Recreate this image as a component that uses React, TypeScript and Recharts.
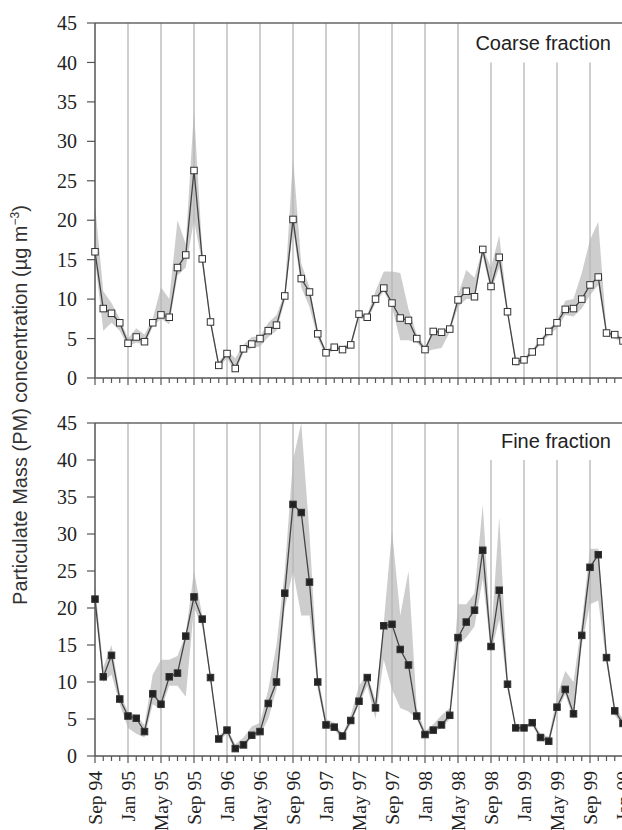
import React from 'react';
import {
  ComposedChart,
  Area,
  Line,
  XAxis,
  YAxis,
  ReferenceLine,
} from 'recharts';

// month index 0 = Sep 94 ... 64 = Jan 00
const tickLabels = [
  'Sep 94', 'Jan 95', 'May 95', 'Sep 95', 'Jan 96', 'May 96', 'Sep 96', 'Jan 97', 'May 97',
  'Sep 97', 'Jan 98', 'May 98', 'Sep 98', 'Jan 99', 'May 99', 'Sep 99', 'Jan 00',
];

const coarseMean = [
  16.0, 8.8, 8.2, 7.0, 4.4, 5.2, 4.6, 7.0, 8.0, 7.7,
  14.0, 15.6, 26.3, 15.1, 7.1, 1.6, 3.1, 1.2, 3.7, 4.3,
  5.0, 6.0, 6.7, 10.4, 20.1, 12.6, 10.9, 5.6, 3.2, 3.9,
  3.6, 4.2, 8.1, 7.7, 10.0, 11.4, 9.5, 7.6, 7.3, 5.0,
  3.6, 5.9, 5.8, 6.2, 9.9, 11.0, 10.3, 16.3, 11.6, 15.3,
  8.4, 2.1, 2.3, 3.3, 4.6, 5.9, 7.0, 8.7, 8.8, 10.0,
  11.8, 12.8, 5.7, 5.5, 4.7,
];
const coarseLow = [
  15, 6, 7, 6, 4, 4.5, 4.2, 6.5, 7.5, 6.8,
  13, 14, 20, 14.5, 6.8, 1.3, 2.5, 0.8, 3.2, 3.8,
  4, 5.2, 6, 9.8, 19, 11.5, 9, 5, 2.8, 3.6,
  3.4, 3.8, 7.6, 7.3, 9.5, 11, 9, 4.8, 4.8, 4.5,
  3.3, 3.6, 3.8, 5.8, 9, 10, 10, 15.5, 11, 14,
  8, 1.5, 2, 3, 4.3, 5.4, 6.3, 8, 7.8, 8.8,
  10.5, 11.8, 5.3, 5, 4.5,
];
const coarseHigh = [
  22, 11, 9.5, 7.5, 5, 6.3, 5.5, 7.5, 11.5, 10,
  20, 17, 34, 16, 7.5, 2, 3.5, 2.5, 4.2, 5.2,
  5.3, 7, 8, 10.8, 28, 14.5, 11.5, 6, 3.5, 4.2,
  4, 4.5, 8.3, 8.0, 11, 13.5, 13.5, 13.3, 8.7, 5.5,
  3.9, 6.1, 6.1, 6.5, 10.5, 13.7, 12.7, 16.5, 14, 18.1,
  8.8, 2.5, 2.6, 3.6, 4.9, 6.2, 7.3, 9.8, 10, 13.3,
  17.5, 19.8, 6, 5.8, 5,
];

const fineMean = [
  21.2, 10.7, 13.6, 7.7, 5.4, 5.1, 3.3, 8.4, 7.0, 10.7,
  11.2, 16.2, 21.5, 18.5, 10.6, 2.3, 3.5, 1.0, 1.5, 2.8,
  3.3, 7.1, 10.0, 22.0, 34.0, 32.9, 23.5, 10.0, 4.2, 3.9,
  2.7, 4.8, 7.4, 10.6, 6.5, 17.6, 17.8, 14.4, 12.3, 5.4,
  2.9, 3.5, 4.2, 5.5, 16.0, 18.1, 19.7, 27.8, 14.8, 22.4,
  9.7, 3.8, 3.8, 4.5, 2.5, 2.0, 6.6, 9.0, 5.7, 16.3,
  25.5, 27.2, 13.3, 6.1, 4.4,
];
const fineLow = [
  20, 10, 11, 7, 3.8, 3, 2.5, 7, 6.3, 9.5,
  9.5, 8, 20, 17.5, 10, 2, 3, 0.6, 1.2, 2.5,
  2.8, 5, 9, 20, 25, 19, 19, 9, 3.8, 3.5,
  2.3, 4.3, 7, 9.5, 5, 13, 9, 6.5, 6, 5,
  2.5, 3.2, 3.8, 5, 15, 16, 17.5, 24, 14, 18.4,
  9, 3.5, 3.5, 4.2, 2.2, 1.5, 6, 8.3, 5, 15,
  20.5, 21, 12.5, 5.5, 4,
];
const fineHigh = [
  23, 12, 15, 8.5, 6, 5.5, 4.2, 11, 13, 13,
  13.5, 16.5, 25, 19, 11, 2.7, 3.8, 1.6, 2.5, 4,
  4.5, 9, 15, 25, 40, 45, 30, 11, 5, 4.5,
  3, 5.5, 9.5, 11, 7.5, 18, 30.5, 19, 25, 6.5,
  3.3, 4.3, 5.5, 6.5, 20.5, 20.5, 22, 34, 16, 32.3,
  10.5, 4, 4, 4.8, 3, 2.6, 8, 11.5, 10, 18,
  28, 28, 14, 6.8, 5,
];

const coarseData = coarseMean.map((v, i) => ({ i, mean: v, band: [coarseLow[i], coarseHigh[i]] }));
const fineData = fineMean.map((v, i) => ({ i, mean: v, band: [fineLow[i], fineHigh[i]] }));

const xTicks = Array.from({ length: 67 }, (_, i) => i);
const yTicks = [0, 5, 10, 15, 20, 25, 30, 35, 40, 45];
const majorTicks = xTicks.filter((i) => i > 0 && i % 4 === 0);

const SERIF = '"Liberation Serif", "Times New Roman", serif';
const SANS = '"Liberation Sans", Arial, sans-serif';

const MonthTick = (props: any) => {
  const { x, y, payload, showLabels } = props;
  const i = payload.value;
  const major = i % 4 === 0;
  const label = major ? tickLabels[i / 4] : undefined;
  return (
    <g>
      <line x1={x} y1={y} x2={x} y2={y + (major ? 7 : 5)} stroke="#555" strokeWidth={1.2} />
      {showLabels && label && (
        <text
          x={x}
          y={y + 15}
          transform={`rotate(-90 ${x} ${y + 15})`}
          textAnchor="end"
          dy="0.35em"
          fontFamily={SERIF}
          fontSize={19.5}
          fill="#222"
        >
          {label}
        </text>
      )}
    </g>
  );
};

const squareDot = (filled: boolean) => (p: any) => {
  if (p.cx == null || p.cy == null) return <g key={p.key} />;
  return (
    <rect
      key={p.key}
      x={p.cx - 3.25}
      y={p.cy - 3.25}
      width={6.5}
      height={6.5}
      fill={filled ? '#222' : '#fff'}
      stroke="#333"
      strokeWidth={1}
    />
  );
};

const Panel = ({ data, filled, showLabels, height, top, xHeight }: any) => (
  <ComposedChart
    width={660}
    height={height}
    data={data}
    margin={{ top, right: 20.5, bottom: 0, left: 0 }}
  >
    {majorTicks.map((i) =>
      i >= 48 ? (
        <ReferenceLine
          key={i}
          segment={[{ x: i, y: 0 }, { x: i, y: 40 }]}
          stroke="#b5b5b5"
          strokeWidth={1.3}
        />
      ) : (
        <ReferenceLine key={i} x={i} stroke="#b5b5b5" strokeWidth={1.3} />
      )
    )}
    <ReferenceLine y={45} stroke="#666" strokeWidth={1.5} />
    <XAxis
      type="number"
      dataKey="i"
      domain={[0, 66]}
      ticks={xTicks}
      interval={0}
      height={xHeight}
      tickSize={0}
      tickMargin={0}
      tickLine={false}
      axisLine={{ stroke: '#555', strokeWidth: 1.5 }}
      tick={(p: any) => <MonthTick {...p} showLabels={showLabels} />}
    />
    <YAxis
      type="number"
      domain={[0, 45]}
      ticks={yTicks}
      interval={0}
      width={95}
      tickSize={8}
      tickMargin={10}
      axisLine={{ stroke: '#555', strokeWidth: 1.5 }}
      tickLine={{ stroke: '#555', strokeWidth: 1.2 }}
      tick={{ fontFamily: SERIF, fontSize: 20, fill: '#222' }}
    />
    <Area
      type="linear"
      dataKey="band"
      stroke="none"
      fill="#bcbcbc"
      fillOpacity={0.75}
      isAnimationActive={false}
      activeDot={false}
    />
    <Line
      type="linear"
      dataKey="mean"
      stroke="#444"
      strokeWidth={1.3}
      dot={squareDot(filled)}
      activeDot={false}
      isAnimationActive={false}
    />
  </ComposedChart>
);

export default function App() {
  return (
    <div
      style={{
        position: 'absolute',
        left: 0,
        top: 0,
        width: 622,
        height: 830,
        overflow: 'hidden',
        background: '#fff',
      }}
    >
      <div style={{ position: 'absolute', left: 0, top: 0 }}>
        <Panel data={coarseData} filled={false} showLabels={false} height={390} top={23} xHeight={12} />
      </div>
      <div style={{ position: 'absolute', left: 0, top: 390 }}>
        <Panel data={fineData} filled showLabels height={446} top={33} xHeight={80} />
      </div>
      <div
        style={{
          position: 'absolute',
          right: 11,
          top: 33,
          fontFamily: SANS,
          fontSize: 20,
          lineHeight: '20px',
          color: '#222',
          whiteSpace: 'nowrap',
        }}
      >
        Coarse fraction
      </div>
      <div
        style={{
          position: 'absolute',
          right: 11,
          top: 431,
          fontFamily: SANS,
          fontSize: 20,
          lineHeight: '20px',
          color: '#222',
          whiteSpace: 'nowrap',
        }}
      >
        Fine fraction
      </div>
      <div
        style={{
          position: 'absolute',
          left: 20 - 260,
          top: 405 - 11,
          width: 520,
          height: 22,
          lineHeight: '22px',
          textAlign: 'center',
          transform: 'rotate(-90deg)',
          fontFamily: SANS,
          fontSize: 20,
          color: '#333',
          whiteSpace: 'nowrap',
        }}
      >
        Particulate Mass (PM) concentration (µg m<sup style={{ fontSize: '0.6em', lineHeight: 0 }}>−3</sup>)
      </div>
    </div>
  );
}
